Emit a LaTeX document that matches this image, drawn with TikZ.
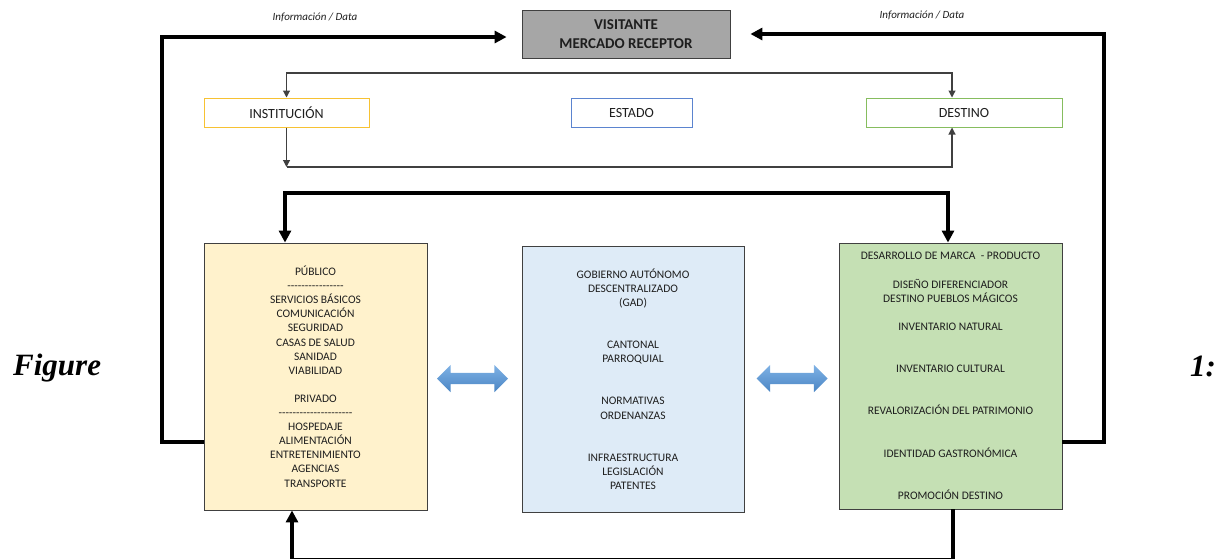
\documentclass[tikz,border=0pt]{standalone}
\usepackage{fontspec}
\setmainfont{Carlito}
\newfontfamily\capfont{Liberation Serif}
\usepackage{tikz}
\usepackage{xcolor}
\usetikzlibrary{arrows.meta,shapes.arrows}
\definecolor{publicofill}{HTML}{FFF2CC}
\definecolor{gadfill}{HTML}{DEEBF7}
\definecolor{marcafill}{HTML}{C5E0B4}
\definecolor{visitfill}{HTML}{A6A6A6}
\definecolor{instcolor}{HTML}{F7C233}
\definecolor{estadocolor}{HTML}{5B84CF}
\definecolor{destcolor}{HTML}{86BD5E}
\definecolor{bordecolor}{HTML}{404040}
\definecolor{textocolor}{HTML}{1E1E1E}
\definecolor{flechaclara}{HTML}{7FB2E5}
\definecolor{flechaoscura}{HTML}{4A85C4}
\newcommand\guiones[1]{\foreach \g in {1,...,#1}{-\kern0pt}}
\tikzstyle{visbox} =[
    draw=bordecolor,
    fill=visitfill,
    text=textocolor,
    line width=0.8pt,
    minimum width=208pt,
    minimum height=48pt,
    align=center,
    font=\fontsize{15}{19}\selectfont\bfseries
    ]
\tikzstyle{rowbox} =[
    line width=1pt,
    text=textocolor,
    minimum height=29pt,
    font=\fontsize{14}{17}\selectfont
    ]
\tikzstyle{bigbox} =[
    draw=bordecolor,
    line width=0.9pt,
    text=textocolor,
    minimum width=223pt,
    minimum height=267pt,
    align=center,
    inner sep=0pt,
    font=\fontsize{11.5}{14.1}\selectfont
    ]
\tikzstyle{flechaazul} =[
    double arrow,
    top color=flechaclara,
    bottom color=flechaoscura,
    minimum height=71pt,
    inner sep=5.5pt,
    double arrow head extend=8pt
    ]
\tikzstyle{gruesa} =[
    line width=4pt,
    black
    ]
\tikzstyle{fina} =[
    line width=1.1pt,
    bordecolor
    ]
\tikzstyle{infolabel} =[
    text=textocolor,
    font=\fontsize{11}{13}\selectfont\itshape
    ]
\tikzstyle{figlabel} =[
    anchor=base west,
    inner sep=0pt,
    font=\capfont\fontsize{31}{35}\selectfont\bfseries\itshape
    ]

\begin{document}
\begin{tikzpicture}[x=1pt,y=-1pt]
\useasboundingbox (0,0) rectangle (1217,558);
\clip (0,0) rectangle (1217,558);

\node[visbox] (visit) at (626,34) {VISITANTE\\MERCADO RECEPTOR};
\node[infolabel] (info1) at (315,17) {Información / Data};
\node[infolabel] (info2) at (922,15) {Información / Data};

\node[rowbox, draw=instcolor, minimum width=165pt] (inst) at (286.5,112.5) {INSTITUCIÓN};
\node[rowbox, draw=estadocolor, minimum width=121pt] (estado) at (631.5,112.5) {ESTADO};
\node[rowbox, draw=destcolor, minimum width=196pt] (dest) at (964,112.5) {DESTINO};

\node[bigbox, fill=publicofill] (publico) at (315.5,376.5) {%
PÚBLICO\\ \guiones{16}\\ SERVICIOS BÁSICOS\\ COMUNICACIÓN\\ SEGURIDAD\\
CASAS DE SALUD\\ SANIDAD\\ VIABILIDAD\\[14.1pt] PRIVADO\\ \guiones{21}\\
HOSPEDAJE\\ ALIMENTACIÓN\\ ENTRETENIMIENTO\\ AGENCIAS\\ TRANSPORTE};
\node[bigbox, fill=gadfill, minimum width=222pt, minimum height=266pt] (gad) at (633,379) {%
GOBIERNO AUTÓNOMO\\ DESCENTRALIZADO\\ (GAD)\\[28.2pt] CANTONAL\\ PARROQUIAL\\[28.2pt]
NORMATIVAS\\ ORDENANZAS\\[28.2pt] INFRAESTRUCTURA\\ LEGISLACIÓN\\ PATENTES};
\node[bigbox, fill=marcafill, minimum height=266pt] (marca) at (950.5,376) {%
DESARROLLO DE MARCA \ - PRODUCTO\\[14.1pt] DISEÑO DIFERENCIADOR\\ DESTINO PUEBLOS MÁGICOS\\[14.1pt]
INVENTARIO NATURAL\\[28.2pt] INVENTARIO CULTURAL\\[28.2pt] REVALORIZACIÓN DEL PATRIMONIO\\[28.2pt]
IDENTIDAD GASTRONÓMICA\\[28.2pt] PROMOCIÓN DESTINO};

\node[flechaazul] (flecha1) at (472.5,378.5) {};
\node[flechaazul] (flecha2) at (792,378.5) {};

\node[figlabel] (fig) at (13,375) {Figure};
\node[figlabel] (fignum) at (1190,376) {1:};

\coordinate (izq) at (162,442);
\coordinate (izqarriba) at (162,37);
\coordinate (der) at (1104,442);
\coordinate (medio) at (0,193);
\coordinate (abajo) at (0,559.5);
\coordinate (arriba) at (0,73);
\coordinate (baja) at (286.5,167);

\draw[gruesa, -{Triangle[length=12pt,width=12pt]}, shorten >=15pt]
    (publico.west |- izq) -- (izq) -- (izqarriba) -- (visit.west |- izqarriba);
\draw[gruesa, -{Triangle[length=12pt,width=12pt]}, shorten >=20pt]
    (marca.east |- der) -- (der) |- (visit.east);
\draw[gruesa, {Triangle[length=12pt,width=12pt]}-{Triangle[length=12pt,width=12pt]}]
    ([xshift=-30.5pt]publico.north) -- ([xshift=-30.5pt]publico.north |- medio) -| ([xshift=-2.5pt]marca.north);
\draw[gruesa, -{Triangle[length=12pt,width=12pt]}]
    ([xshift=2.5pt]marca.south) -- ([xshift=2.5pt]marca.south |- abajo) -| ([xshift=-23.5pt]publico.south);

\draw[fina, {Triangle[length=7pt,width=7pt]}-{Triangle[length=7pt,width=7pt]}]
    (inst.north) -- (inst.north |- arriba) -| ([xshift=-12pt]dest.north);
\draw[fina, -{Triangle[length=7pt,width=7pt]}] (inst.south) -- (baja);
\draw[fina, -{Triangle[length=7pt,width=7pt]}] (baja) -| ([xshift=-12pt]dest.south);
\end{tikzpicture}
\end{document}
